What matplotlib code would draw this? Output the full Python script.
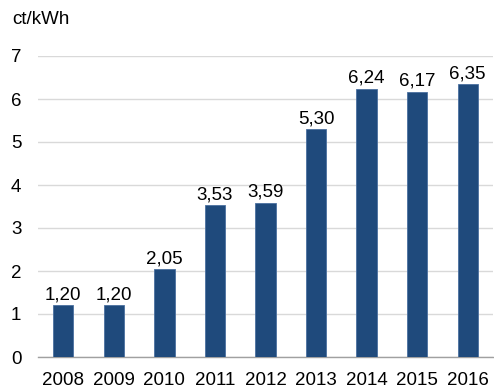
import matplotlib
matplotlib.use("Agg")
import matplotlib.pyplot as plt

years = ["2008", "2009", "2010", "2011", "2012", "2013", "2014", "2015", "2016"]
values = [1.20, 1.20, 2.05, 3.53, 3.59, 5.30, 6.24, 6.17, 6.35]
labels = ["1,20", "1,20", "2,05", "3,53", "3,59", "5,30", "6,24", "6,17", "6,35"]
yticks = [0, 1, 2, 3, 4, 5, 6, 7]

plt.rcParams['font.family'] = ['Liberation Sans', 'DejaVu Sans']
FS = 13.5

fig = plt.figure(figsize=(4.94, 3.89), dpi=100)
ax = fig.add_axes([38/494, 1 - 357/389, (493-38)/494, (357-56)/389])

x = list(range(len(years)))
ax.bar(x, values, width=0.4, color="#1F4A7C", edgecolor="#4A70A0", linewidth=0.6, zorder=3)
for xi, v, lab in zip(x, values, labels):
    ax.text(xi, v + 0.04, lab, ha="center", va="bottom", fontsize=FS, color="black")

ax.set_xlim(-0.5, len(years) - 0.5)
ax.set_ylim(0, 7)
ax.set_yticks(yticks)
ax.set_yticklabels([str(t) for t in yticks], fontsize=FS)
ax.set_xticks(x)
ax.set_xticklabels(years, fontsize=FS)
ax.tick_params(length=0)
ax.tick_params(axis="y", pad=12)
ax.tick_params(axis="x", pad=11)
ax.grid(axis="y", color="#D9D9D9", linewidth=1, zorder=0)
for s in ["top", "right", "left"]:
    ax.spines[s].set_visible(False)
ax.spines["bottom"].set_color("#A0A0A0")
ax.spines["bottom"].set_linewidth(1)

fig.text(12/494, 1 - 19/389, "ct/kWh", fontsize=FS, va="center", ha="left")

fig.savefig("out.png", dpi=100)
